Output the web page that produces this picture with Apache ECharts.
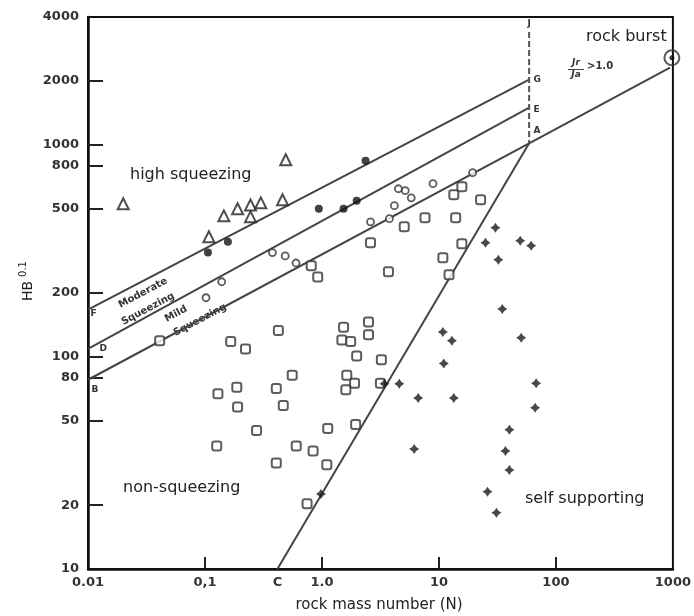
<!DOCTYPE html>
<html><head><meta charset="utf-8">
<script src="https://cdn.jsdelivr.net/npm/echarts@6/dist/echarts.min.js"></script>
<style>html,body{margin:0;padding:0;background:#fff}#c{width:694px;height:616px}</style>
</head><body><div id="c"></div>
<script>
// ---- axis ticks / labels ----
const xLabelValues = [0.01, 0.1, 0.416, 1, 10, 100, 1000];
const xLabelTexts = ['0.01', '0,1', 'C', '1.0', '10', '100', '1000'];
const xTickValues = [0.1, 1, 10, 100];
const yLabelValues = [10, 20, 50, 80, 100, 200, 500, 800, 1000, 2000, 4000];
const yTickValues = [20, 50, 80, 100, 200, 500, 800, 1000, 2000];

// ---- data (x = rock mass number N, y = H·B^0.1) ----
const highSqueezing = [[0.02,527],[0.108,368],[0.145,462],[0.19,499],[0.245,520],[0.245,457],[0.30,532],[0.46,550],[0.49,850]];
const moderateSqueezing = [[0.106,310],[0.157,349],[0.94,499],[1.53,499],[1.98,544],[2.36,841]];
const mildSqueezing = [[0.102,190],[0.139,226],[0.377,310],[0.485,299],[0.60,277],[2.6,433],[3.77,448],[4.16,516],[4.5,620],[5.15,607],[5.8,562],[8.9,655],[19.4,738]];
const nonSqueezing = [[0.041,119],[0.166,118],[0.222,109],[0.424,133],[0.557,82],[0.129,67],[0.187,72],[0.19,58],[0.407,71],[0.467,59],[0.276,45],[0.126,38],[0.407,31.6],[0.603,38],[0.84,36],[1.12,46],[1.10,31],[0.746,20.3],[1.53,138],[2.5,146],[2.5,127],[1.48,120],[1.76,118],[1.98,101],[3.22,97],[1.63,82],[1.9,75],[1.6,70],[3.16,75],[1.94,48],[0.81,269],[0.92,238],[2.6,345],[3.7,252],[5.05,411],[7.6,453],[13.4,581],[15.7,634],[13.9,453],[22.7,550],[15.7,341],[10.8,293],[12.2,244]];
const selfSupporting = [[30.4,406],[25,345],[49.5,353],[61.4,334],[32.2,287],[34.8,168],[10.8,131],[12.9,119],[11,93],[50.5,123],[3.42,74.6],[4.58,74.6],[6.64,64],[13.4,64],[67.7,75],[66.4,57.5],[6.14,36.8],[40,45.3],[37,36],[40,29.3],[26,23.1],[31,18.4],[0.98,22.6]];
const rockBurst = [[980,2570]];

// ---- boundary lines ----
const lineFG = [[0.01,167],[59,2026]];
const lineDE = [[0.01,109],[59,1494]];
const lineBA = [[0.01,78],[59,1016],[944,2307]];
const lineCA = [[0.416,10],[59,1016]];
const lineJA = [[59,3400],[59,1016]];

const INK = '#222';
const LINE = '#444';
const starPath = 'path://M0,-10 L4,-4 L10,0 L4,4 L0,10 L-4,4 L-10,0 L-4,-4 Z';

function lbl(d, text, pos, offset) {
  return { value: d, symbolSize: 1, label: { show: true, formatter: text, position: pos, offset: offset || [0,0],
    fontFamily: 'DejaVu Sans', fontWeight: 'bold', fontSize: 9, color: '#333' } };
}
function lineSeries(data, extra) {
  return Object.assign({ type: 'line', data: data, symbol: 'circle', symbolSize: 0, showSymbol: true, showAllSymbol: true,
    silent: true, z: 1, itemStyle: { color: 'rgba(0,0,0,0)' },
    lineStyle: { color: LINE, width: 2 } }, extra || {});
}

const chart = echarts.init(document.getElementById('c'));
chart.setOption({
  animation: false,
  grid: { left: 88, right: 16, top: 17, bottom: 47, show: true, borderColor: '#111', borderWidth: 2 },
  xAxis: {
    type: 'log', logBase: 10, min: 0.01, max: 1000,
    axisLine: { lineStyle: { color: '#111', width: 2.5 } },
    axisTick: { show: true, inside: true, length: 12, customValues: xTickValues, lineStyle: { color: '#222', width: 2 } },
    axisLabel: { customValues: xLabelValues, margin: 7, fontFamily: 'DejaVu Sans', fontWeight: 'bold', fontSize: 13, color: '#333',
      formatter: function (v) { for (let i = 0; i < xLabelValues.length; i++) { if (Math.abs(Math.log10(v) - Math.log10(xLabelValues[i])) < 0.01) return xLabelTexts[i]; } return ''; } },
    splitLine: { show: false }, minorTick: { show: false }
  },
  yAxis: {
    type: 'log', logBase: 10, min: 10, max: 4000,
    axisLine: { lineStyle: { color: '#111', width: 2.5 } },
    axisTick: { show: true, inside: true, length: 15, customValues: yTickValues, lineStyle: { color: '#222', width: 2 } },
    axisLabel: { customValues: yLabelValues, margin: 9, fontFamily: 'DejaVu Sans', fontWeight: 'bold', fontSize: 13, color: '#333',
      formatter: function (v) { return String(Math.round(v)); } },
    splitLine: { show: false }
  },
  series: [
    lineSeries([lbl(lineFG[0], 'F', 'right', [-3, 4]), lbl(lineFG[1], 'G', 'right', [-1, 0])]),
    lineSeries([lbl(lineDE[0], 'D', 'right', [6, 0]), lbl(lineDE[1], 'E', 'right', [-1, 2])]),
    lineSeries([lbl(lineBA[0], 'B', 'right', [-2, 10]), lbl(lineBA[1], 'A', 'right', [-1, -13]), lineBA[2]]),
    lineSeries(lineCA),
    lineSeries([lbl(lineJA[0], 'J', 'top', [0, 2]), lineJA[1]], { lineStyle: { color: '#555', width: 2, type: [6, 3] } }),
    { type: 'scatter', data: highSqueezing, symbol: 'triangle', symbolSize: 11, z: 3,
      itemStyle: { color: '#fff', borderColor: INK, borderWidth: 2 } },
    { type: 'scatter', data: moderateSqueezing, symbol: 'circle', symbolSize: 8, z: 3,
      itemStyle: { color: '#111' } },
    { type: 'scatter', data: mildSqueezing, symbol: 'circle', symbolSize: 7, z: 3,
      itemStyle: { color: '#fff', borderColor: '#333', borderWidth: 1.8 } },
    { type: 'scatter', data: nonSqueezing, symbol: 'roundRect', symbolSize: 9, z: 3,
      itemStyle: { color: '#fff', borderColor: '#333', borderWidth: 2 } },
    { type: 'scatter', data: selfSupporting, symbol: starPath, symbolSize: 10, z: 3,
      itemStyle: { color: '#1a1a1a' } },
    { type: 'scatter', data: rockBurst, symbol: 'circle', symbolSize: 15, z: 3,
      itemStyle: { color: 'rgba(255,255,255,0)', borderColor: '#333', borderWidth: 2 } },
    { type: 'scatter', data: rockBurst, symbol: 'circle', symbolSize: 5, z: 4,
      itemStyle: { color: '#111' } }
  ],
  graphic: [
    { type: 'text', x: 130, y: 175, style: { text: 'high squeezing', font: '16px "DejaVu Sans"', fill: '#222', verticalAlign: 'middle' } },
    { type: 'text', x: 123, y: 488, style: { text: 'non-squeezing', font: '16px "DejaVu Sans"', fill: '#222', verticalAlign: 'middle' } },
    { type: 'text', x: 525, y: 499, style: { text: 'self supporting', font: '16px "DejaVu Sans"', fill: '#222', verticalAlign: 'middle' } },
    { type: 'text', x: 586, y: 37, style: { text: 'rock burst', font: '16px "DejaVu Sans"', fill: '#222', verticalAlign: 'middle' } },
    { type: 'text', x: 576, y: 63, style: { text: 'Jr', font: 'italic bold 9px "DejaVu Sans"', fill: '#333', align: 'center', verticalAlign: 'middle' } },
    { type: 'line', shape: { x1: 568, y1: 69.5, x2: 584, y2: 69.5 }, style: { stroke: '#444', lineWidth: 1 } },
    { type: 'text', x: 576, y: 75, style: { text: 'Ja', font: 'italic bold 9px "DejaVu Sans"', fill: '#333', align: 'center', verticalAlign: 'middle' } },
    { type: 'text', x: 587, y: 66, style: { text: '>1.0', font: 'bold 10px "DejaVu Sans"', fill: '#333', verticalAlign: 'middle' } },
    { type: 'text', x: 143, y: 293, rotation: 0.49, style: { text: 'Moderate', font: 'bold 10px "DejaVu Sans"', fill: '#333', align: 'center', verticalAlign: 'middle' } },
    { type: 'text', x: 148, y: 309, rotation: 0.49, style: { text: 'Squeezing', font: 'bold 10px "DejaVu Sans"', fill: '#333', align: 'center', verticalAlign: 'middle' } },
    { type: 'text', x: 176, y: 314, rotation: 0.49, style: { text: 'Mild', font: 'bold 10px "DejaVu Sans"', fill: '#333', align: 'center', verticalAlign: 'middle' } },
    { type: 'text', x: 200, y: 320, rotation: 0.49, style: { text: 'Squeezing', font: 'bold 10px "DejaVu Sans"', fill: '#333', align: 'center', verticalAlign: 'middle' } },
    { type: 'text', x: 379, y: 605, style: { text: 'rock mass number (N)', font: '15px "DejaVu Sans"', fill: '#222', align: 'center', verticalAlign: 'middle' } },
    { type: 'text', x: 28, y: 291, rotation: Math.PI / 2, style: { text: 'HB', font: '14px "DejaVu Sans"', fill: '#222', align: 'center', verticalAlign: 'middle' } },
    { type: 'text', x: 23, y: 269, rotation: Math.PI / 2, style: { text: '0.1', font: '10px "DejaVu Sans"', fill: '#222', align: 'center', verticalAlign: 'middle' } }
  ]
});
</script></body></html>
